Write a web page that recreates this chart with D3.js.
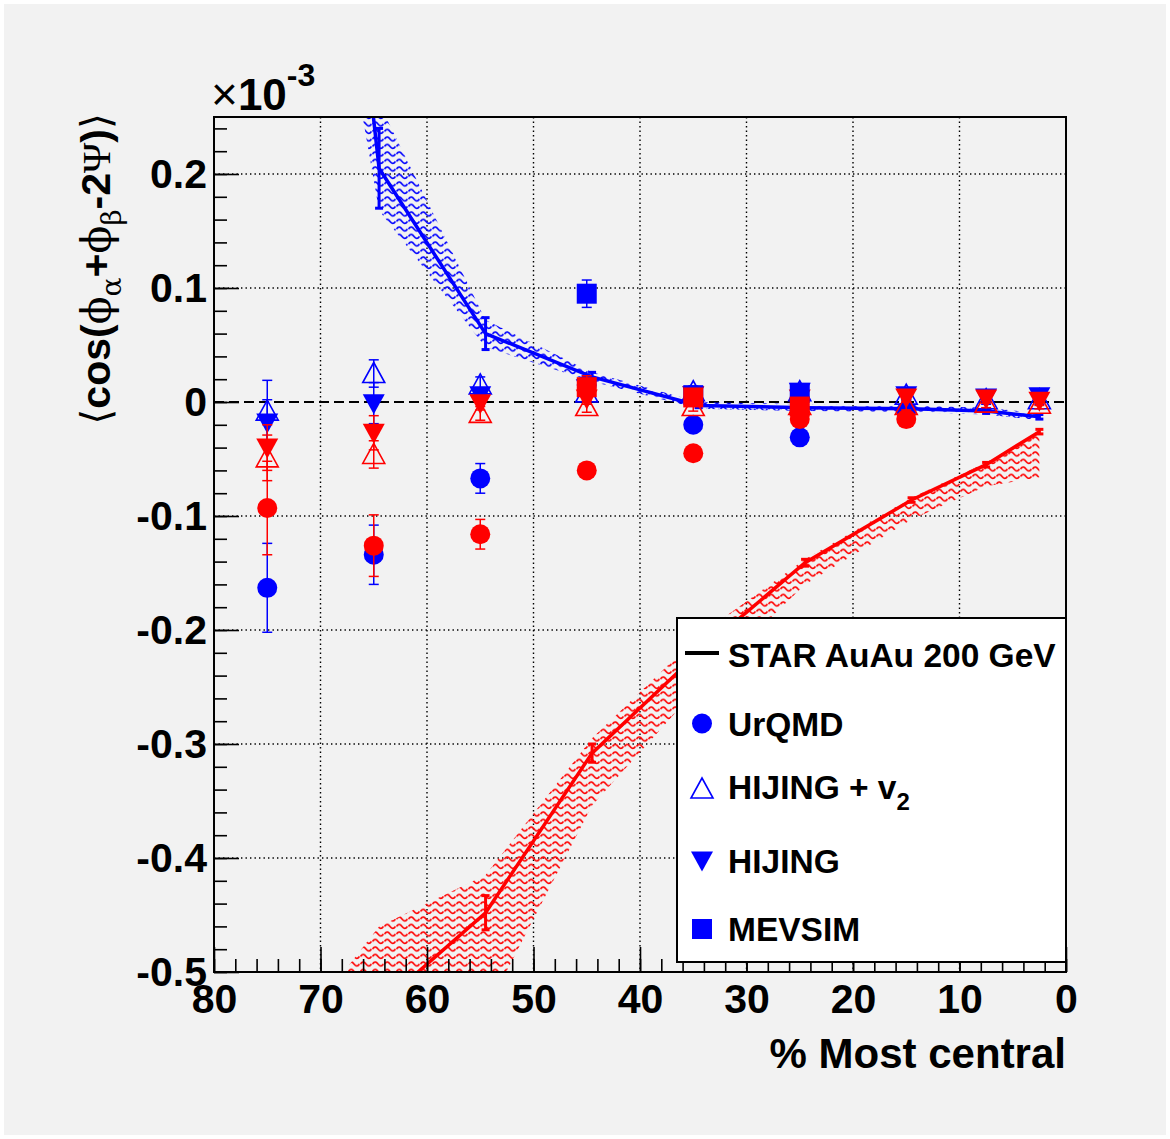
<!DOCTYPE html>
<html>
<head>
<meta charset="utf-8">
<script src="https://cdn.jsdelivr.net/npm/d3@7"></script>
<style>
  body { margin: 0; background: #ffffff; }
  text { font-family: "Liberation Sans", Arial, Helvetica, sans-serif; }
</style>
</head>
<body>
<div id="chart"></div>
<script>
// STAR AuAu 200 GeV points (centrality bin centres)
var starX = [74.5, 64.5, 54.5, 44.5, 34.5, 24.5, 14.5, 7.5, 2.5];
// opposite charge (blue)
var starOpp = [1.05, 0.205, 0.060, 0.022, -0.003, -0.005, -0.006, -0.008, -0.013];
var starOppErr = [0.10, 0.035, 0.014, 0.004, 0.002, 0.002, 0.002, 0.002, 0.002];
var starOppLo = [0.70, 0.168, 0.048, 0.018, -0.006, -0.008, -0.009, -0.011, -0.016];
var starOppHi = [1.40, 0.262, 0.072, 0.026, 0.000, -0.002, -0.003, -0.005, -0.010];
// same charge (red)
var starSame = [-0.75, -0.53, -0.448, -0.308, -0.22, -0.141, -0.086, -0.055, -0.026];
var starSameErr = [0.05, 0.02, 0.015, 0.008, 0.004, 0.003, 0.002, 0.002, 0.002];
var starSameLo = [-0.95, -0.62, -0.535, -0.354, -0.25, -0.16, -0.103, -0.074, -0.066];
var starSameHi = [-0.58, -0.46, -0.415, -0.295, -0.205, -0.138, -0.084, -0.053, -0.026];

// models
var modelX = [75, 65, 55, 45, 35, 25, 15, 7.5, 2.5];

var urqmdX = [75, 65, 55, 45, 35, 25, 15];
var urqmdBlue = [-0.163, -0.134, -0.067, 0.015, -0.020, -0.031, -0.008];
var urqmdBlueErr = [0.039, 0.026, 0.013, 0.008, 0.005, 0.005, 0.005];
var urqmdRed = [-0.093, -0.126, -0.116, -0.060, -0.045, -0.015, -0.015];
var urqmdRedErr = [0.041, 0.027, 0.013, 0.006, 0.005, 0.005, 0.005];

var hv2Blue = [-0.008, 0.025, 0.015, 0.008, 0.009, 0.009, 0.006, 0.002, 0.002];
var hv2BlueErr = [0.027, 0.012, 0.007, 0.005, 0.005, 0.004, 0.004, 0.004, 0.004];
var hv2Red = [-0.049, -0.046, -0.010, -0.004, -0.004, -0.003, -0.003, -0.001, -0.002];
var hv2RedErr = [0.020, 0.012, 0.006, 0.005, 0.004, 0.004, 0.004, 0.004, 0.004];

var hijBlue = [-0.018, -0.001, 0.006, 0.012, 0.006, 0.009, 0.006, 0.004, 0.005];
var hijBlueErr = [0.020, 0.018, 0.006, 0.005, 0.004, 0.004, 0.004, 0.004, 0.004];
var hijRed = [-0.040, -0.027, -0.001, 0.003, 0.006, 0.003, 0.004, 0.003, 0.001];
var hijRedErr = [0.020, 0.015, 0.006, 0.005, 0.004, 0.004, 0.004, 0.004, 0.004];

var mevX = [45, 35, 25];
var mevBlue = [0.095, 0.006, 0.008];
var mevBlueErr = [0.012, 0.004, 0.004];
var mevRed = [0.013, 0.004, -0.004];
var mevRedErr = [0.010, 0.004, 0.004];

var xMajor = [80, 70, 60, 50, 40, 30, 20, 10, 0];
var yMajor = [-0.5, -0.4, -0.3, -0.2, -0.1, 0, 0.1, 0.2];

var legendLabels = ["STAR AuAu 200 GeV", "UrQMD", "HIJING + v", "HIJING", "MEVSIM"];

// geometry
var W = 1170, H = 1139;
var pL = 214, pR = 1066, pT = 117, pB = 972;

var x = d3.scaleLinear().domain([80, 0]).range([pL, pR]);
var y = d3.scaleLinear().domain([-0.5, 0.25]).range([pB, pT]);

var svg = d3.select("#chart").append("svg")
    .attr("width", W).attr("height", H);

// canvas
svg.append("rect").attr("x", 4).attr("y", 4).attr("width", W - 8).attr("height", H - 8)
    .attr("fill", "#f2f2f2");

var defs = svg.append("defs");
defs.append("clipPath").attr("id", "clip")
  .append("rect").attr("x", pL).attr("y", pT)
  .attr("width", pR - pL).attr("height", pB - pT);

// wavy hatch patterns
[["hatchBlue", "#0000ff"], ["hatchRed", "#ff0000"]].forEach(function(p) {
    var pat = defs.append("pattern").attr("id", p[0])
        .attr("patternUnits", "userSpaceOnUse")
        .attr("width", 12).attr("height", 7.5);
    pat.append("path").attr("d", "M0.5,4 q2.7,-4 5.5,0 t5.5,0")
        .attr("fill", "none").attr("stroke", p[1]).attr("stroke-width", 1.6);
});

// grid
var grid = svg.append("g");
xMajor.filter(function(d) { return d > 0 && d < 80; }).forEach(function(d) {
    grid.append("line").attr("x1", x(d)).attr("x2", x(d)).attr("y1", pT).attr("y2", pB)
        .attr("stroke", "#000").attr("stroke-width", 1.4).attr("stroke-dasharray", "1.4,3.1");
});
yMajor.filter(function(d) { return d !== 0 && d > -0.5; }).forEach(function(d) {
    grid.append("line").attr("x1", pL).attr("x2", pR).attr("y1", y(d)).attr("y2", y(d))
        .attr("stroke", "#000").attr("stroke-width", 1.4).attr("stroke-dasharray", "1.4,3.1");
});
// zero line
grid.append("line").attr("x1", pL).attr("x2", pR).attr("y1", y(0)).attr("y2", y(0))
    .attr("stroke", "#000").attr("stroke-width", 2).attr("stroke-dasharray", "10,5");

var plot = svg.append("g").attr("clip-path", "url(#clip)");

// STAR bands and lines
function starSeries(vals, errs, lo, hi, color, hatch) {
    var pts = starX.map(function(d, i) {
        return { x: d, v: vals[i], e: errs[i], lo: lo[i], hi: hi[i] };
    });
    plot.append("path").datum(pts)
        .attr("d", d3.area().x(function(d) { return x(d.x); })
            .y0(function(d) { return y(d.lo); }).y1(function(d) { return y(d.hi); }))
        .attr("fill", "url(#" + hatch + ")");
    plot.append("path").datum(pts)
        .attr("d", d3.line().x(function(d) { return x(d.x); }).y(function(d) { return y(d.v); }))
        .attr("fill", "none").attr("stroke", color).attr("stroke-width", 3.5);
    pts.forEach(function(d) {
        var cx = x(d.x);
        plot.append("line").attr("x1", cx).attr("x2", cx)
            .attr("y1", y(d.v - d.e)).attr("y2", y(d.v + d.e))
            .attr("stroke", color).attr("stroke-width", 3);
        [d.v - d.e, d.v + d.e].forEach(function(v) {
            plot.append("line").attr("x1", cx - 4).attr("x2", cx + 4)
                .attr("y1", y(v)).attr("y2", y(v))
                .attr("stroke", color).attr("stroke-width", 3);
        });
    });
}
starSeries(starOpp, starOppErr, starOppLo, starOppHi, "#0000ff", "hatchBlue");
starSeries(starSame, starSameErr, starSameLo, starSameHi, "#ff0000", "hatchRed");

// marker shapes
function drawMarker(g, shape, cx, cy, color) {
    if (shape === "circle") {
        g.append("circle").attr("cx", cx).attr("cy", cy).attr("r", 10).attr("fill", color);
    } else if (shape === "triUpOpen") {
        g.append("path").attr("d", "M" + cx + "," + (cy - 11) + " L" + (cx + 11) + "," + (cy + 9) +
            " L" + (cx - 11) + "," + (cy + 9) + "Z")
            .attr("fill", "none").attr("stroke", color).attr("stroke-width", 1.6);
    } else if (shape === "triDown") {
        g.append("path").attr("d", "M" + cx + "," + (cy + 11) + " L" + (cx + 11) + "," + (cy - 9) +
            " L" + (cx - 11) + "," + (cy - 9) + "Z")
            .attr("fill", color);
    } else if (shape === "square") {
        g.append("rect").attr("x", cx - 10).attr("y", cy - 10).attr("width", 20).attr("height", 20)
            .attr("fill", color);
    }
}

function modelSeries(xs, vals, errs, shape, color) {
    var g = plot.append("g");
    xs.forEach(function(d, i) {
        var cx = x(d), v = vals[i], e = errs[i];
        g.append("line").attr("x1", cx).attr("x2", cx)
            .attr("y1", y(v - e)).attr("y2", y(v + e))
            .attr("stroke", color).attr("stroke-width", 1.5);
        [v - e, v + e].forEach(function(t) {
            g.append("line").attr("x1", cx - 5).attr("x2", cx + 5)
                .attr("y1", y(t)).attr("y2", y(t))
                .attr("stroke", color).attr("stroke-width", 1.5);
        });
        drawMarker(g, shape, cx, y(v), color);
    });
}
modelSeries(urqmdX, urqmdBlue, urqmdBlueErr, "circle", "#0000ff");
modelSeries(urqmdX, urqmdRed, urqmdRedErr, "circle", "#ff0000");
modelSeries(modelX, hv2Blue, hv2BlueErr, "triUpOpen", "#0000ff");
modelSeries(modelX, hv2Red, hv2RedErr, "triUpOpen", "#ff0000");
modelSeries(modelX, hijBlue, hijBlueErr, "triDown", "#0000ff");
modelSeries(modelX, hijRed, hijRedErr, "triDown", "#ff0000");
modelSeries(mevX, mevBlue, mevBlueErr, "square", "#0000ff");
modelSeries(mevX, mevRed, mevRedErr, "square", "#ff0000");

// frame
svg.append("rect").attr("x", pL).attr("y", pT)
    .attr("width", pR - pL).attr("height", pB - pT)
    .attr("fill", "none").attr("stroke", "#000").attr("stroke-width", 2);

// axes
svg.append("g").attr("transform", "translate(0," + pB + ")")
    .call(d3.axisBottom(x).tickValues(xMajor).tickSize(-25).tickPadding(12)
        .tickFormat(d3.format("d")));
svg.append("g").attr("transform", "translate(0," + pB + ")")
    .call(d3.axisBottom(x).tickValues(d3.range(0, 81, 2)).tickSize(-13).tickFormat(""));
svg.append("g").attr("transform", "translate(" + pL + ",0)")
    .call(d3.axisLeft(y).tickValues(yMajor).tickSize(-25).tickPadding(7)
        .tickFormat(function(d) { return d === 0 ? "0" : String(+d.toFixed(1)); }));
svg.append("g").attr("transform", "translate(" + pL + ",0)")
    .call(d3.axisLeft(y).tickValues(d3.range(-25, 13).map(function(d) { return d / 50; }))
        .tickSize(-13).tickFormat(""));

svg.selectAll(".domain").remove();
svg.selectAll(".tick line").attr("stroke", "#000").attr("stroke-width", 1.6);
svg.selectAll(".tick text").attr("fill", "#000")
    .style("font-family", "'Liberation Sans', Arial, sans-serif")
    .style("font-weight", "bold").style("font-size", "41px");

// exponent label
var expo = svg.append("text").attr("x", 211).attr("y", 110).attr("fill", "#000");
expo.append("tspan").text("×").style("font-size", "46px");
expo.append("tspan").text("10").style("font-size", "44px").style("font-weight", "bold");
expo.append("tspan").text("-3").attr("dy", -24).style("font-size", "32px").style("font-weight", "bold");

// axis titles
svg.append("text").attr("x", pR).attr("y", 1068)
    .attr("text-anchor", "end").style("font-size", "42px").style("font-weight", "bold")
    .text("% Most central");

var yt = svg.append("text").attr("transform", "translate(110,113) rotate(-90)")
    .attr("text-anchor", "end").style("font-size", "41px").style("font-weight", "bold");
yt.append("tspan").text("⟨").style("font-family", "DejaVu Sans").style("font-weight", "normal");
yt.append("tspan").text("cos(");
yt.append("tspan").text("ϕ").style("font-family", "DejaVu Serif").style("font-weight", "normal");
yt.append("tspan").text("α").attr("dy", 11).style("font-family", "DejaVu Serif")
    .style("font-weight", "normal").style("font-size", "28px");
yt.append("tspan").text("+").attr("dy", -11);
yt.append("tspan").text("ϕ").style("font-family", "DejaVu Serif").style("font-weight", "normal");
yt.append("tspan").text("β").attr("dy", 11).style("font-family", "DejaVu Serif")
    .style("font-weight", "normal").style("font-size", "28px");
yt.append("tspan").text("-2").attr("dy", -11);
yt.append("tspan").text("Ψ").style("font-family", "Liberation Serif").style("font-weight", "normal");
yt.append("tspan").text(")");
yt.append("tspan").text("⟩").style("font-family", "DejaVu Sans").style("font-weight", "normal");

// legend
var lg = svg.append("g");
lg.append("rect").attr("x", 677).attr("y", 618).attr("width", pR - 677).attr("height", 344)
    .attr("fill", "#fff").attr("stroke", "#000").attr("stroke-width", 2);
var legendShapes = ["line", "circle", "triUpOpen", "triDown", "square"];
legendLabels.forEach(function(lab, i) {
    var cy = 655 + 68.5 * i;
    if (legendShapes[i] === "line") {
        lg.append("line").attr("x1", 685).attr("x2", 719).attr("y1", cy - 2).attr("y2", cy - 2)
            .attr("stroke", "#000").attr("stroke-width", 4);
    } else {
        drawMarker(lg, legendShapes[i], 702, cy + (i === 2 ? -3 : 0), "#0000ff");
    }
    var t = lg.append("text").attr("x", 728).attr("y", cy + 12 - (i === 2 ? 5 : 0))
        .style("font-size", "33.5px").style("font-weight", "bold").text(lab);
    if (i === 2) {
        t.append("tspan").text("2").attr("dy", 11).style("font-size", "24px");
    }
});
</script>
</body>
</html>
